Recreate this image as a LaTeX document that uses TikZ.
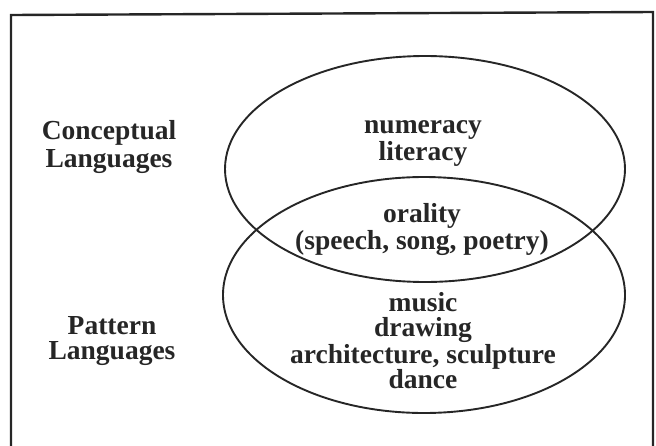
\documentclass[tikz,border=0pt]{standalone}
\usepackage{fontspec}
\setmainfont{Liberation Serif}
\begin{document}
\begin{tikzpicture}[x=1pt,y=-1pt,
  lbl/.style={anchor=base,inner sep=0pt,align=center,font=\fontsize{27.5}{25}\selectfont\bfseries,text=black!85},
  venn/.style={draw=black!85,line width=1.9pt},
  frame/.style={draw=black!85,line width=2.4pt}]
\useasboundingbox (0,0) rectangle (656,445);
% frame (bottom edge lies outside the picture)
\coordinate (fbl) at (11,452);
\coordinate (ftl) at (11,15);
\coordinate (ftr) at (653,12);
\coordinate (fbr) at (653,452);
\draw[frame] (fbl) -- (ftl) -- (ftr) -- (fbr);
% ellipses
\draw[venn] (425,169) ellipse [x radius=200, y radius=113];
\draw[venn] (424,295) ellipse [x radius=201, y radius=118];
% left labels
\node[lbl,font=\fontsize{27.5}{28}\selectfont\bfseries] (cl) at (109,167) {Conceptual\\Languages};
\node[lbl] (pl) at (112,359) {Pattern\\Languages};
% top ellipse
\node[lbl] (nl) at (423,160) {numeracy\\literacy};
% intersection
\node[lbl,font=\fontsize{27.5}{23.5}\selectfont\bfseries] (or) at (422,249) {orality\\(speech, song, poetry)};
% bottom ellipse
\node[lbl] (ar) at (423,388) {music\\drawing\\architecture, sculpture\\dance};
\end{tikzpicture}
\end{document}
